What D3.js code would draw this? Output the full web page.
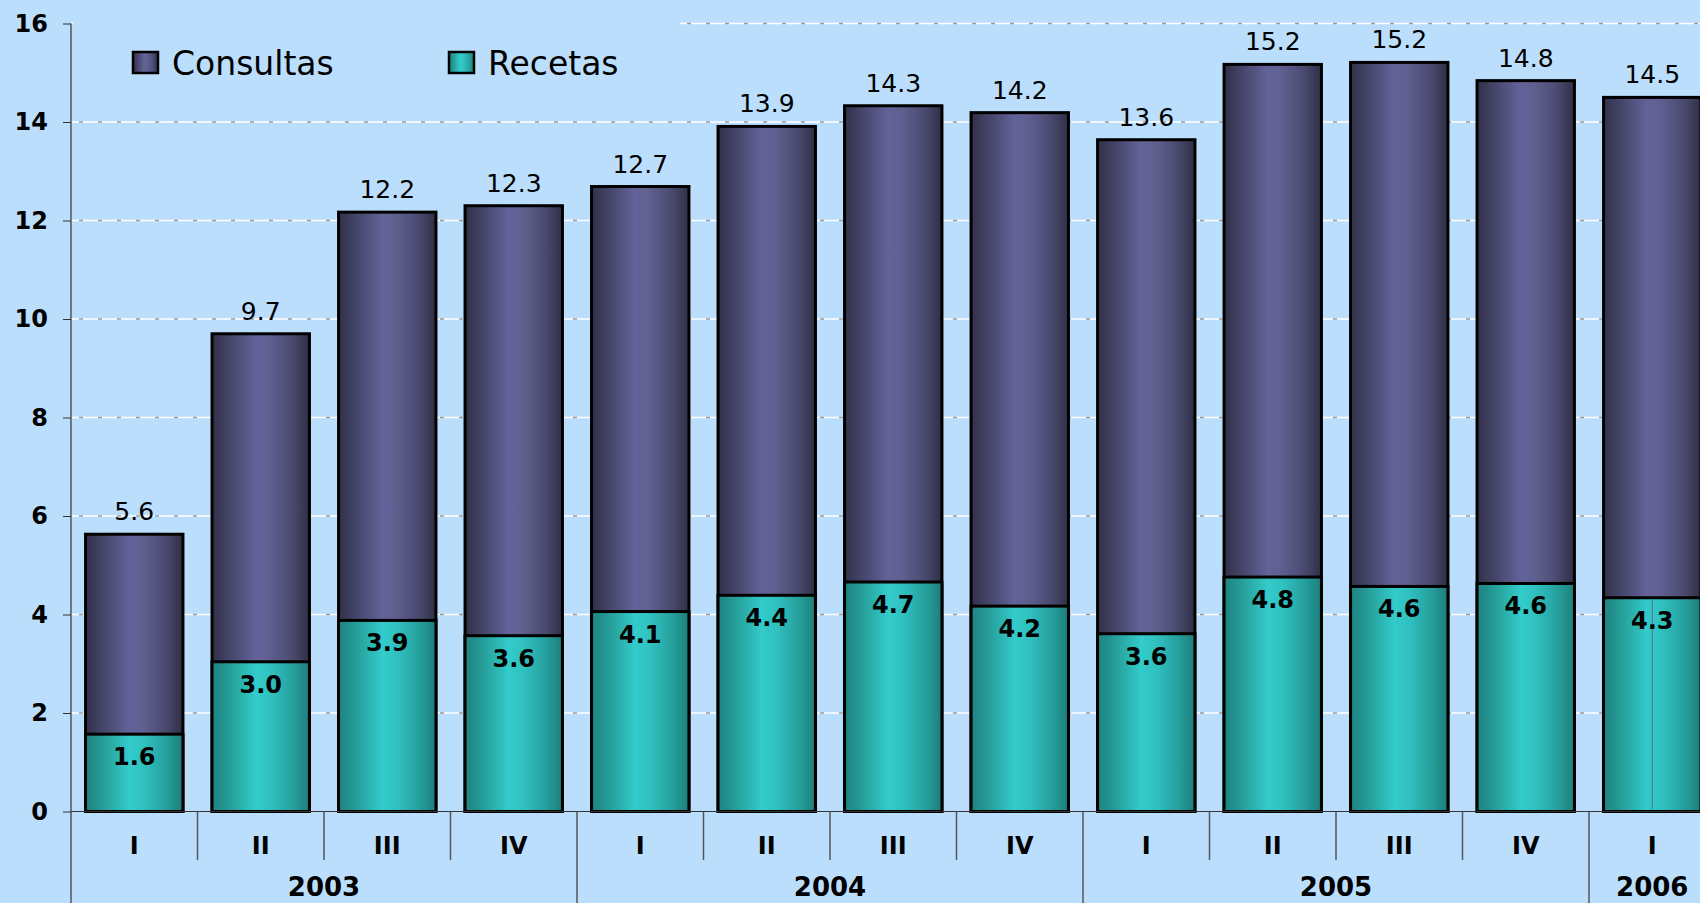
<html>
<script src="https://d3js.org/d3.v7.min.js"></script>
<style>
  body { margin: 0; background: #bbdefd; }
  text { font-family: "DejaVu Sans", Verdana, sans-serif; }
</style>
<body>
<svg width=1700 height=903></svg>
<script>
// data
const quarters = ["I", "II", "III", "IV", "I", "II", "III", "IV", "I", "II", "III", "IV", "I"];
const years = ["2003", "2004", "2005", "2006"];
const yearSpan = [4, 4, 4, 1];
const consultas = [5.63, 9.70, 12.17, 12.30, 12.69, 13.91, 14.33, 14.19, 13.64, 15.17, 15.21, 14.84, 14.50];
const recetas = [1.57, 3.04, 3.88, 3.57, 4.06, 4.39, 4.66, 4.17, 3.61, 4.76, 4.57, 4.63, 4.34];
const yTicks = [0, 2, 4, 6, 8, 10, 12, 14, 16];
const seriesNames = ["Consultas", "Recetas"];

const W = 1700, H = 903;
const left = 71, step = 126.5;
const svg = d3.select("svg");
svg.append("rect").attr("width", W).attr("height", H).attr("fill", "#bbdefd");

var x = d3.scaleBand().domain(d3.range(quarters.length))
  .range([left, left + quarters.length * step])
  .paddingInner(0.23).paddingOuter(0.115);
var y = d3.scaleLinear().domain([0, 16]).range([811.5, 23.5]);

// gradients
const defs = svg.append("defs");
function grad(id, stops) {
  const g = defs.append("linearGradient").attr("id", id)
    .attr("x1", 0).attr("x2", 1).attr("y1", 0).attr("y2", 0);
  stops.forEach(s => g.append("stop").attr("offset", s[0]).attr("stop-color", s[1]));
}
grad("gPurple", [[0, "#31314a"], [0.12, "#3e3e5e"], [0.3, "#52527e"], [0.45, "#63639a"], [0.6, "#5f5f8f"], [0.82, "#4a4a70"], [1, "#2f2f46"]]);
grad("gTeal", [[0, "#1e8482"], [0.12, "#23938f"], [0.3, "#2bb2ae"], [0.45, "#33cbcb"], [0.6, "#30c1c0"], [0.82, "#26a19e"], [1, "#1d7e7b"]]);

// gridlines
const grid = svg.append("g");
yTicks.filter(d => d > 0).forEach(d => {
  grid.append("line").attr("x1", left).attr("x2", W).attr("y1", y(d)).attr("y2", y(d))
    .attr("stroke", "#ffffff").attr("stroke-width", 1.5);
  grid.append("line").attr("x1", left + 8).attr("x2", W).attr("y1", y(d)).attr("y2", y(d))
    .attr("stroke", "#9a9a9a").attr("stroke-width", 1.5).attr("stroke-dasharray", "4,15");
});

// legend box hides the top gridline
svg.append("rect").attr("x", 73).attr("y", 5).attr("width", 607).attr("height", 95).attr("fill", "#bbdefd");

// bars
svg.append("g").selectAll("rect").data(consultas).enter().append("rect")
  .attr("x", (d, i) => x(i)).attr("width", x.bandwidth())
  .attr("y", d => y(d)).attr("height", d => y(0) - y(d))
  .attr("fill", "url(#gPurple)").attr("stroke", "#000").attr("stroke-width", 3);
svg.append("g").selectAll("rect").data(recetas).enter().append("rect")
  .attr("x", (d, i) => x(i)).attr("width", x.bandwidth())
  .attr("y", d => y(d)).attr("height", d => y(0) - y(d))
  .attr("fill", "url(#gTeal)").attr("stroke", "#000").attr("stroke-width", 3);

// thin line inside the last bar
const last = recetas.length - 1;
svg.append("line").attr("x1", x(last) + x.bandwidth() / 2).attr("x2", x(last) + x.bandwidth() / 2)
  .attr("y1", y(recetas[last]) + 2).attr("y2", y(0) - 2)
  .attr("stroke", "#6a6a90").attr("stroke-width", 1);

// value labels
svg.append("g").selectAll("text").data(consultas).enter().append("text")
  .attr("x", (d, i) => x(i) + x.bandwidth() / 2).attr("y", d => y(d) - 14)
  .attr("text-anchor", "middle").attr("font-size", 25).attr("fill", "#000")
  .text(d => d.toFixed(1));
svg.append("g").selectAll("text").data(recetas).enter().append("text")
  .attr("x", (d, i) => x(i) + x.bandwidth() / 2).attr("y", d => y(d) + 31)
  .attr("text-anchor", "middle").attr("font-size", 24).attr("font-weight", "bold").attr("fill", "#000")
  .text(d => d.toFixed(1));

// y axis
svg.append("g").attr("transform", "translate(" + left + ",0)")
  .call(d3.axisLeft(y).tickValues(yTicks).tickSize(8).tickSizeOuter(0).tickPadding(15).tickFormat(d3.format("d")))
  .call(g => g.select(".domain").remove())
  .call(g => g.selectAll(".tick line").attr("stroke", "#333"))
  .call(g => g.selectAll(".tick text").attr("font-size", 24).attr("font-weight", "bold")
    .attr("fill", "#000").attr("font-family", "'DejaVu Sans', Verdana, sans-serif"));
svg.append("line").attr("x1", left).attr("x2", left).attr("y1", y(16)).attr("y2", H)
  .attr("stroke", "#333").attr("stroke-width", 1.2);

// x axis line
svg.append("line").attr("x1", left).attr("x2", W).attr("y1", y(0)).attr("y2", y(0))
  .attr("stroke", "#333").attr("stroke-width", 1.2);

// quarter labels
svg.append("g").attr("transform", "translate(0," + y(0) + ")")
  .call(d3.axisBottom(x).tickSize(0).tickPadding(0).tickFormat(i => quarters[i]))
  .call(g => g.select(".domain").remove())
  .call(g => g.selectAll(".tick text").attr("y", 42).attr("dy", 0).attr("font-size", 24)
    .attr("font-weight", "bold").attr("fill", "#000").attr("font-family", "'DejaVu Sans', Verdana, sans-serif"));

// separators
const yearStarts = [];
let acc = 0;
yearSpan.forEach(n => { yearStarts.push(acc); acc += n; });
const bound = i => x(i) - x.step() * x.paddingInner() / 2;
d3.range(1, quarters.length).forEach(i => {
  const isYear = yearStarts.includes(i);
  svg.append("line").attr("x1", bound(i)).attr("x2", bound(i))
    .attr("y1", y(0)).attr("y2", isYear ? H : 860)
    .attr("stroke", "#555").attr("stroke-width", 1.5);
});

// year labels
years.forEach((yr, k) => {
  const a = bound(yearStarts[k]);
  const b = bound(yearStarts[k]) + yearSpan[k] * x.step();
  svg.append("text").attr("x", (a + b) / 2).attr("y", 896)
    .attr("text-anchor", "middle").attr("font-size", 26).attr("font-weight", "bold")
    .attr("fill", "#000").text(yr);
});

// legend
const legX = [133, 449];
const legFill = ["url(#gPurple)", "url(#gTeal)"];
seriesNames.forEach((name, k) => {
  svg.append("rect").attr("x", legX[k]).attr("y", 52).attr("width", 25).attr("height", 21)
    .attr("fill", legFill[k]).attr("stroke", "#000").attr("stroke-width", 2.5);
  svg.append("text").attr("x", legX[k] + 39).attr("y", 75).attr("font-size", 33)
    .attr("fill", "#000").text(name);
});
</script>
</body>
</html>
